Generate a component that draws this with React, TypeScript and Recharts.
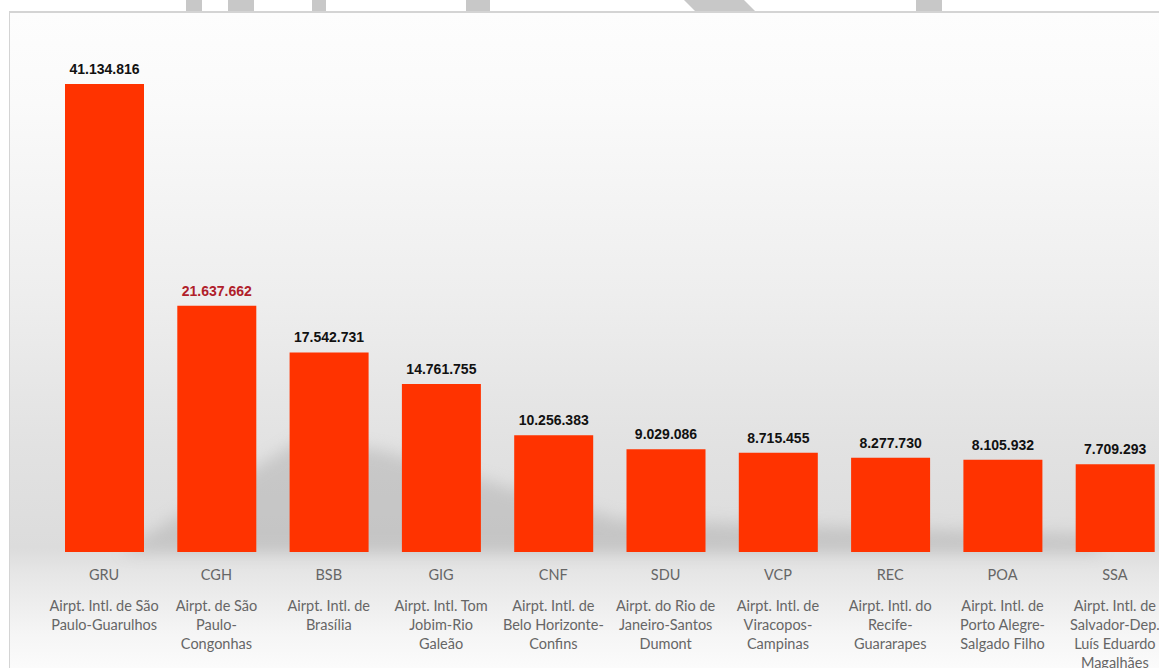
import React from "react";
import { BarChart, Bar, XAxis, YAxis, LabelList } from "recharts";

const codes = ["GRU", "CGH", "BSB", "GIG", "CNF", "SDU", "VCP", "REC", "POA", "SSA"];

const names = [
  ["Airpt. Intl. de São", "Paulo-Guarulhos"],
  ["Airpt. de São", "Paulo-", "Congonhas"],
  ["Airpt. Intl. de", "Brasília"],
  ["Airpt. Intl. Tom", "Jobim-Rio", "Galeão"],
  ["Airpt. Intl. de", "Belo Horizonte-", "Confins"],
  ["Airpt. do Rio de", "Janeiro-Santos", "Dumont"],
  ["Airpt. Intl. de", "Viracopos-", "Campinas"],
  ["Airpt. Intl. do", "Recife-", "Guararapes"],
  ["Airpt. Intl. de", "Porto Alegre-", "Salgado Filho"],
  ["Airpt. Intl. de", "Salvador-Dep.", "Luís Eduardo", "Magalhães"],
];

const passengers = [
  41134816, 21637662, 17542731, 14761755, 10256383, 9029086, 8715455, 8277730,
  8105932, 7709293,
];

// the one label printed in red in the original
const highlight = "CGH";

const data = codes.map((code, i) => ({
  code,
  value: passengers[i],
}));

const fmt = (v: number) => v.toLocaleString("de-DE");

const AirportTick = (props: any) => {
  const { x, y, payload, index } = props;
  const lines = names[index] || [];
  return (
    <g>
      <text
        x={x}
        y={y + 28}
        textAnchor="middle"
        fill="#666666"
        fontFamily="Lato, 'Open Sans', sans-serif"
        fontSize={14.5}
      >
        {payload.value}
      </text>
      <text
        x={x}
        y={y + 59}
        textAnchor="middle"
        fill="#666666"
        fontFamily="Lato, 'Open Sans', sans-serif"
        fontSize={14.5}
      >
        {lines.map((l: string, k: number) => (
          <tspan key={k} x={x} dy={k === 0 ? 0 : 19}>
            {l}
          </tspan>
        ))}
      </text>
    </g>
  );
};

const ValueLabel = (props: any) => {
  const { x, y, width, value, index } = props;
  const red = codes[index] === highlight;
  return (
    <text
      x={x + width / 2}
      y={y - 10}
      textAnchor="middle"
      fill={red ? "#B0202A" : "#111111"}
      fontFamily="Arial, 'Liberation Sans', sans-serif"
      fontWeight="bold"
      fontSize={14}
    >
      {fmt(value)}
    </text>
  );
};

const App: React.FC = () => {
  return (
    <div
      style={{
        position: "fixed",
        left: 0,
        top: 0,
        width: 1159,
        height: 668,
        overflow: "hidden",
        background: "#ffffff",
      }}
    >
      {/* watermark pieces above the frame */}
      <div style={{ position: "absolute", left: 186, top: 0, width: 16, height: 12, background: "#c8c8c8" }} />
      <div style={{ position: "absolute", left: 228, top: 0, width: 26, height: 12, background: "#c8c8c8" }} />
      <div style={{ position: "absolute", left: 312, top: 0, width: 14, height: 12, background: "#c8c8c8" }} />
      <div style={{ position: "absolute", left: 466, top: 0, width: 24, height: 12, background: "#c8c8c8" }} />
      <div style={{ position: "absolute", left: 690, top: 0, width: 60, height: 12, background: "#c8c8c8", transform: "skewX(45deg)" }} />
      <div style={{ position: "absolute", left: 916, top: 0, width: 26, height: 12, background: "#c8c8c8" }} />

      {/* chart frame with gradient */}
      <div
        style={{
          position: "absolute",
          left: 9,
          top: 11,
          width: 1160,
          height: 670,
          borderTop: "2px solid #d4d4d4",
          borderLeft: "1px solid #d4d4d4",
          background:
            "linear-gradient(to bottom, #fdfdfd 0px, #fafafa 90px, #eeeeee 280px, #e2e2e2 430px, #dcdcdc 535px, #e6e6e6 560px, #f5f5f5 620px, #fcfcfc 660px)",
        }}
      />

      {/* soft watermark shadow behind the bars */}
      <svg
        width={1159}
        height={668}
        style={{ position: "absolute", left: 0, top: 0 }}
      >
        <defs>
          <filter id="soft" x="-20%" y="-50%" width="140%" height="200%">
            <feGaussianBlur stdDeviation="8" />
          </filter>
        </defs>
        <polygon
          points="120,552 300,440 380,450 620,520 1100,535 1100,552"
          fill="#9a9a9a"
          opacity={0.35}
          filter="url(#soft)"
        />
      </svg>

      <div style={{ position: "absolute", left: 0, top: 0 }}>
        <BarChart
          width={1175}
          height={668}
          data={data}
          margin={{ top: 40, right: 4, bottom: 6, left: 48 }}
        >
          <XAxis
            dataKey="code"
            axisLine={false}
            tickLine={false}
            tickSize={0}
            tickMargin={0}
            interval={0}
            height={110}
            tick={<AirportTick />}
          />
          <YAxis hide domain={[0, 45000000]} />
          <Bar dataKey="value" fill="#FF3300" barSize={79} isAnimationActive={false}>
            <LabelList dataKey="value" content={<ValueLabel />} />
          </Bar>
        </BarChart>
      </div>
    </div>
  );
};

export default App;
